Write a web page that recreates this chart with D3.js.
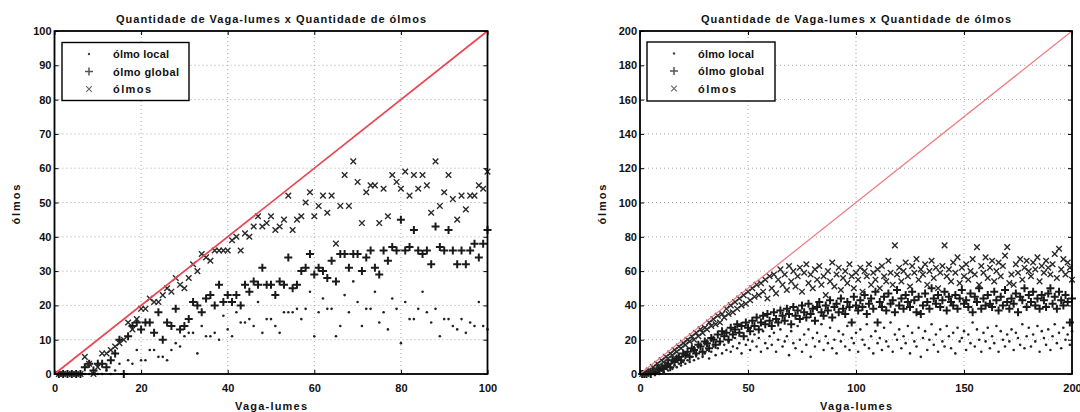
<!DOCTYPE html>
<html><head><meta charset="utf-8">
<script src="https://cdn.jsdelivr.net/npm/d3@7"></script>
<style>
body{margin:0;background:#fff}
text{font-family:"Liberation Sans",Arial,sans-serif;fill:#111}
</style>
</head><body>
<svg id="c" width="1080" height="412"></svg>
<script>
const titleText = "Quantidade de Vaga-lumes x Quantidade de ólmos";
const xLabel = "Vaga-lumes";
const yLabel = "ólmos";
const legendLabels = ["ólmo local", "ólmo global", "ólmos"];

const xTicksL = [0, 20, 40, 60, 80, 100];
const yTicksL = [0, 10, 20, 30, 40, 50, 60, 70, 80, 90, 100];
const xTicksR = [0, 50, 100, 150, 200];
const yTicksR = [0, 20, 40, 60, 80, 100, 120, 140, 160, 180, 200];

// Left panel: 1..100 vaga-lumes
const leftOlmos = [
 0,0,0,0,0,0,5,3,0,2,
 6,6,7,8,9,10,15,13,16,19,
 19,22,21,21,23,25,24,28,26,25,
 28,32,30,35,34,33,36,36,36,36,
 39,40,36,41,40,43,46,43,44,46,
 42,43,45,52,42,45,46,50,53,46,
 49,52,47,52,38,49,58,49,62,56,
 44,53,55,55,44,54,46,58,56,54,
 59,52,58,54,58,55,47,62,49,53,
 58,51,45,52,48,52,52,55,54,59];
const leftGlobal = [
 0,0,0,0,0,0,2,3,1,3,
 3,2,4,6,10,0,11,14,15,13,
 15,15,12,18,10,15,14,19,13,14,
 16,21,20,18,22,23,20,26,21,23,
 21,23,20,26,24,27,26,31,26,26,
 23,27,26,34,25,26,30,31,35,29,
 31,30,28,33,27,35,35,31,35,35,
 30,34,36,31,29,36,33,37,36,45,
 36,37,42,36,35,36,32,43,37,36,
 42,36,32,36,32,36,38,34,38,42];
const leftLocal = [
 0,0,0,0,0,0,0,0,0,0,
 0,1,0,1,3,0,4,3,7,4,
 4,7,7,5,5,4,7,9,8,11,
 12,12,6,14,11,11,12,10,17,13,
 11,18,15,15,16,14,21,12,16,16,
 14,12,18,18,18,19,16,19,24,11,
 18,22,19,19,11,14,23,18,27,21,
 14,19,19,24,15,18,13,22,19,9,
 21,16,16,19,24,18,15,19,11,16,
 16,14,13,16,12,15,14,21,14,13];

// Right panel: 1..200 vaga-lumes
const rightOlmos = [
 0,0,0,2,1,4,3,6,5,8,
 7,10,9,12,11,14,13,16,15,18,
 17,20,19,22,20,24,22,26,24,27,
 26,30,28,32,29,34,30,35,33,38,
 35,40,36,42,38,44,40,46,41,48,
 43,50,45,52,46,53,48,55,44,57,
 50,58,47,55,61,52,58,49,63,54,
 60,51,57,62,48,59,64,53,58,50,
 61,55,63,52,57,46,60,54,65,51,
 58,62,49,56,60,53,64,57,50,59,
 55,62,48,60,57,64,52,59,55,61,
 50,63,57,54,66,59,52,75,58,62,
 54,60,65,57,51,63,59,67,55,61,
 58,64,52,60,66,56,62,50,59,63,
 75,57,61,54,65,59,68,53,62,57,
 64,55,60,67,58,74,52,63,59,68,
 56,62,66,54,60,65,57,63,69,74,
 53,58,52,64,59,67,55,62,66,60,
 57,65,61,68,54,63,59,66,62,58,
 64,70,56,73,61,67,58,65,62,55];
const rightGlobal = [
 0,0,0,1,0,2,1,3,2,4,
 3,5,6,4,8,7,9,10,8,12,
 11,13,10,15,14,12,17,16,13,19,
 18,15,21,20,17,23,19,25,22,24,
 20,27,23,26,29,24,28,22,30,27,
 25,31,28,33,26,30,34,29,35,31,
 28,36,32,30,37,34,31,38,35,29,
 39,34,37,32,40,36,33,41,35,38,
 31,39,42,36,34,40,37,43,33,39,
 41,36,44,38,35,42,39,30,45,40,
 37,43,39,46,35,41,44,38,48,30,
 42,39,45,37,47,41,43,36,49,40,
 44,38,46,42,39,48,43,36,45,35,
 40,47,42,38,50,44,41,46,39,43,
 48,37,45,42,40,46,38,44,49,41,
 43,39,47,36,45,42,50,38,44,40,
 46,41,39,48,43,37,45,40,49,42,
 38,44,41,47,36,45,43,50,39,46,
 42,48,40,44,38,46,43,39,47,50,
 41,45,38,48,43,40,46,42,30,44];
const rightLocal = [
 0,0,0,0,0,0,0,1,0,2,
 1,3,2,4,3,5,4,6,5,7,
 6,8,7,10,8,11,9,13,10,12,
 14,9,13,16,11,15,18,12,17,14,
 19,13,16,21,15,18,12,22,17,20,
 14,19,23,16,21,13,25,18,15,22,
 17,24,13,20,26,16,19,22,11,25,
 18,15,28,20,13,23,17,26,10,21,
 16,24,19,29,14,22,18,27,15,20,
 12,25,19,23,16,28,14,21,18,24,
 13,26,20,17,29,15,22,12,25,18,
 21,14,27,19,16,30,13,23,20,26,
 15,22,18,28,12,24,19,16,27,10,
 21,25,14,20,29,17,23,13,26,19,
 16,28,22,15,24,12,27,19,21,25,
 14,23,18,30,16,26,20,13,24,19,
 27,15,22,18,28,13,25,20,16,23,
 19,26,14,24,21,17,29,15,22,27,
 16,23,19,28,13,25,21,17,26,14,
 22,29,18,24,15,27,20,23,17,25];

const svg = d3.select("#c");
const FONT = '"Liberation Sans",Arial,sans-serif';

const panels = [
  {x0:54.5, x1:487.5, y0:374, y1:31, xmax:100, ymax:100, xt:xTicksL, yt:yTicksL,
   local:leftLocal, global:leftGlobal, olmos:leftOlmos, lineColor:"#e84652", lineW:1.7,
   legend:{x:62, y:42.5, w:127, h:58}, ylabX:15.5},
  {x0:640, x1:1072, y0:374, y1:31, xmax:200, ymax:200, xt:xTicksR, yt:yTicksR,
   local:rightLocal, global:rightGlobal, olmos:rightOlmos, lineColor:"#f07a80", lineW:1.2,
   legend:{x:647, y:42, w:128, h:59}, ylabX:602}
];

const plusPath = "M-4,0H4M0,-4V4";
const crossPath = "M-2.8,-2.8L2.8,2.8M-2.8,2.8L2.8,-2.8";

panels.forEach(p => {
  const x = d3.scaleLinear().domain([0, p.xmax]).range([p.x0, p.x1]);
  const y = d3.scaleLinear().domain([0, p.ymax]).range([p.y0, p.y1]);
  const g = svg.append("g");

  // grid
  g.append("g").selectAll("line").data(p.xt.slice(1, -1)).join("line")
    .attr("x1", d => x(d)).attr("x2", d => x(d)).attr("y1", p.y0).attr("y2", p.y1)
    .attr("stroke", "#a8a8a8").attr("stroke-width", 1).attr("stroke-dasharray", "1,3");
  g.append("g").selectAll("line").data(p.yt.slice(1, -1)).join("line")
    .attr("y1", d => y(d)).attr("y2", d => y(d)).attr("x1", p.x0).attr("x2", p.x1)
    .attr("stroke", "#a8a8a8").attr("stroke-width", 1).attr("stroke-dasharray", "1,3");

  // data
  const idx = d3.range(1, p.olmos.length + 1);
  const mk = (arr) => arr.map((v, i) => [idx[i], v]);
  g.append("g").selectAll("circle").data(mk(p.local)).join("circle")
    .attr("cx", d => x(d[0])).attr("cy", d => y(d[1])).attr("r", 1.3)
    .attr("fill", "#222");
  g.append("g").selectAll("path").data(mk(p.global)).join("path")
    .attr("transform", d => `translate(${x(d[0])},${y(d[1])})`).attr("d", plusPath)
    .attr("stroke", "#1a1a1a").attr("stroke-width", 2).attr("fill", "none");
  g.append("g").selectAll("path").data(mk(p.olmos)).join("path")
    .attr("transform", d => `translate(${x(d[0])},${y(d[1])})`).attr("d", crossPath)
    .attr("stroke", "#2a2a2a").attr("stroke-width", 1.4).attr("fill", "none");

  // identity line
  g.append("line").attr("x1", x(0)).attr("y1", y(0)).attr("x2", x(p.xmax)).attr("y2", y(p.ymax))
    .attr("stroke", p.lineColor).attr("stroke-width", p.lineW);

  // axes
  const styleAxis = sel => {
    sel.select(".domain").remove();
    sel.selectAll(".tick line").attr("stroke", "#000");
    sel.selectAll("text").attr("font-family", FONT).attr("font-size", 11)
      .attr("font-weight", "bold").attr("fill", "#111");
  };
  g.append("g").attr("transform", `translate(0,${p.y0})`)
    .call(d3.axisBottom(x).tickValues(p.xt).tickSizeInner(-4).tickSizeOuter(0).tickPadding(10))
    .call(styleAxis);
  g.append("g").attr("transform", `translate(0,${p.y1})`)
    .call(d3.axisTop(x).tickValues(p.xt).tickSizeInner(-4).tickSizeOuter(0).tickFormat(""))
    .call(styleAxis);
  g.append("g").attr("transform", `translate(${p.x0},0)`)
    .call(d3.axisLeft(y).tickValues(p.yt).tickSizeInner(-4).tickSizeOuter(0).tickPadding(3))
    .call(styleAxis);
  g.append("g").attr("transform", `translate(${p.x1},0)`)
    .call(d3.axisRight(y).tickValues(p.yt).tickSizeInner(-4).tickSizeOuter(0).tickFormat(""))
    .call(styleAxis);

  // box
  g.append("rect").attr("x", p.x0).attr("y", p.y1).attr("width", p.x1 - p.x0).attr("height", p.y0 - p.y1)
    .attr("fill", "none").attr("stroke", "#000").attr("stroke-width", 1.8);

  // title and labels
  const cx = (p.x0 + p.x1) / 2;
  g.append("text").attr("x", cx).attr("y", 23).attr("text-anchor", "middle").attr("font-weight", "bold")
    .attr("font-size", 11).attr("textLength", 310).attr("lengthAdjust", "spacing").text(titleText);
  g.append("text").attr("x", cx).attr("y", 410).attr("text-anchor", "middle").attr("font-weight", "bold")
    .attr("font-size", 11).attr("textLength", 72).attr("lengthAdjust", "spacing").text(xLabel);
  g.append("text").attr("transform", `translate(${p.ylabX + 4},${(p.y0 + p.y1) / 2 + 2}) rotate(-90)`)
    .attr("text-anchor", "middle").attr("font-size", 11).attr("font-weight", "bold")
    .attr("textLength", 40).attr("lengthAdjust", "spacing").text(yLabel);

  // legend
  const L = p.legend;
  const lg = g.append("g");
  lg.append("rect").attr("x", L.x).attr("y", L.y).attr("width", L.w).attr("height", L.h)
    .attr("fill", "#fff").attr("stroke", "#000").attr("stroke-width", 1.4);
  const rowsY = [L.y + 11.5, L.y + 29, L.y + 46.5];
  const widths = [56, 66, 38];
  legendLabels.forEach((lab, i) => {
    const mx = L.x + 27, my = rowsY[i];
    if (i === 0) lg.append("circle").attr("cx", mx).attr("cy", my).attr("r", 1.2).attr("fill", "#444");
    if (i === 1) lg.append("path").attr("transform", `translate(${mx},${my})`).attr("d", plusPath)
      .attr("stroke", "#555").attr("stroke-width", 1.5).attr("fill", "none");
    if (i === 2) lg.append("path").attr("transform", `translate(${mx},${my})`).attr("d", crossPath)
      .attr("stroke", "#666").attr("stroke-width", 1.1).attr("fill", "none");
    lg.append("text").attr("x", L.x + 51).attr("y", my + 4).attr("font-size", 11).attr("font-weight", "bold")
      .attr("textLength", widths[i]).attr("lengthAdjust", "spacing").text(lab);
  });
});
</script>
</body></html>
